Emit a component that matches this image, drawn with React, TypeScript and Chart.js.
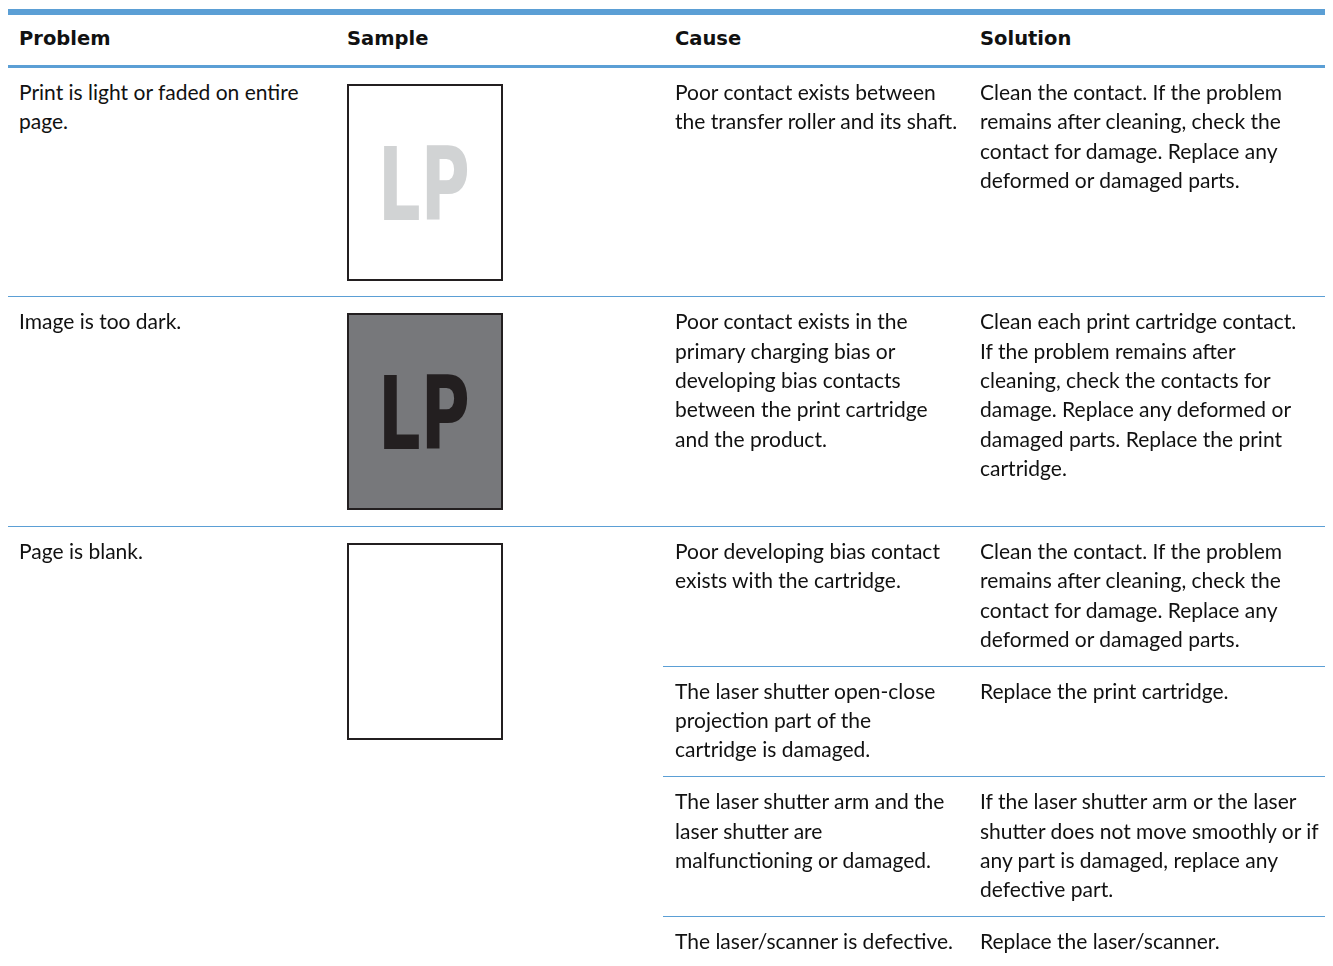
import React, { useEffect, useRef } from "react";
import { Chart, registerables } from "chart.js";

Chart.register(...registerables);

const headers = ["Problem", "Sample", "Cause", "Solution"];

const problems: string[][] = [
  ["Print is light or faded on entire", "page."],
  ["Image is too dark."],
  ["Page is blank."],
];

const sampleLetters = ["LP", "LP", ""];

const causes: string[][][] = [
  [["Poor contact exists between", "the transfer roller and its shaft."]],
  [
    [
      "Poor contact exists in the",
      "primary charging bias or",
      "developing bias contacts",
      "between the print cartridge",
      "and the product.",
    ],
  ],
  [
    ["Poor developing bias contact", "exists with the cartridge."],
    ["The laser shutter open-close", "projection part of the", "cartridge is damaged."],
    ["The laser shutter arm and the", "laser shutter are", "malfunctioning or damaged."],
    ["The laser/scanner is defective."],
  ],
];

const solutions: string[][][] = [
  [
    [
      "Clean the contact. If the problem",
      "remains after cleaning, check the",
      "contact for damage. Replace any",
      "deformed or damaged parts.",
    ],
  ],
  [
    [
      "Clean each print cartridge contact.",
      "If the problem remains after",
      "cleaning, check the contacts for",
      "damage. Replace any deformed or",
      "damaged parts. Replace the print",
      "cartridge.",
    ],
  ],
  [
    [
      "Clean the contact. If the problem",
      "remains after cleaning, check the",
      "contact for damage. Replace any",
      "deformed or damaged parts.",
    ],
    ["Replace the print cartridge."],
    [
      "If the laser shutter arm or the laser",
      "shutter does not move smoothly or if",
      "any part is damaged, replace any",
      "defective part.",
    ],
    ["Replace the laser/scanner."],
  ],
];

// visual styles (not data)
const BLUE = "#5b9fd5";
const TEXT_FONT = "Lato, 'Noto Sans', sans-serif";
const HEAD_FONT = "'DejaVu Sans', Lato, sans-serif";
const LETTER_FONT = "'Liberation Sans Narrow', 'DejaVu Sans Condensed', sans-serif";
const sampleStyles = [
  { paper: "#ffffff", ink: "#d1d3d4" },
  { paper: "#77787b", ink: "#231f20" },
  { paper: "#ffffff", ink: "#231f20" },
];

function Sample({ index }: { index: number }) {
  const ref = useRef<HTMLCanvasElement | null>(null);
  useEffect(() => {
    if (!ref.current) return;
    const style = sampleStyles[index];
    const letters = sampleLetters[index];
    const chart = new Chart(ref.current, {
      type: "scatter",
      data: { datasets: [] },
      options: {
        animation: false,
        responsive: false,
        events: [],
        layout: { padding: 0 },
        plugins: { legend: { display: false }, tooltip: { enabled: false } },
        scales: {
          x: { display: false, min: 0, max: 1 },
          y: { display: false, min: 0, max: 1 },
        },
      },
      plugins: [
        {
          id: "paper",
          beforeDraw(c: any) {
            const ctx = c.ctx;
            ctx.save();
            ctx.fillStyle = style.paper;
            ctx.fillRect(0, 0, c.width, c.height);
            ctx.restore();
          },
          afterDraw(c: any) {
            if (!letters) return;
            const ctx = c.ctx;
            const xs = c.scales.x;
            const ys = c.scales.y;
            const left = xs.getPixelForValue(0.23);
            const right = xs.getPixelForValue(0.78);
            const top = ys.getPixelForValue(0.69);
            const bottom = ys.getPixelForValue(0.3);
            ctx.save();
            ctx.font = `bold 100px ${LETTER_FONT}`;
            const m = ctx.measureText(letters);
            const w = m.actualBoundingBoxLeft + m.actualBoundingBoxRight;
            const h = m.actualBoundingBoxAscent + m.actualBoundingBoxDescent;
            const sx = (right - left) / w;
            const sy = (bottom - top) / h;
            ctx.translate(left, top);
            ctx.scale(sx, sy);
            ctx.fillStyle = style.ink;
            ctx.textBaseline = "alphabetic";
            ctx.fillText(letters, m.actualBoundingBoxLeft, m.actualBoundingBoxAscent);
            ctx.restore();
          },
        },
      ],
    });
    return () => chart.destroy();
  }, [index]);
  return (
    <div style={{ width: 152, height: 193, border: "2px solid #231f20" }}>
      <canvas ref={ref} width={152} height={193} style={{ display: "block" }} />
    </div>
  );
}

const colWidths = [328, 327, 305, 371];
const TABLE_WIDTH = colWidths.reduce((a, b) => a + b, 0);

export default function App() {
  useEffect(() => {
    const html = document.documentElement;
    const prevHtml = html.style.overflow;
    const prevBody = document.body.style.overflow;
    html.style.overflow = "hidden";
    document.body.style.overflow = "hidden";
    return () => {
      html.style.overflow = prevHtml;
      document.body.style.overflow = prevBody;
    };
  }, []);

  const textCell = (lines: string[], border: boolean, key: string) => (
    <td
      key={key}
      style={{
        verticalAlign: "top",
        padding: "9px 8px 12.7px 12px",
        borderBottom: border ? `1px solid ${BLUE}` : "none",
        whiteSpace: "nowrap",
      }}
    >
      {lines.map((l, i) => (
        <div key={i}>{l}</div>
      ))}
    </td>
  );

  const rows: React.ReactNode[] = [];
  problems.forEach((prob, r) => {
    const subs = causes[r].length;
    const lastRow = r === problems.length - 1;
    for (let s = 0; s < subs; s++) {
      const lastSub = s === subs - 1;
      rows.push(
        <tr key={`${r}-${s}`}>
          {s === 0 && (
            <td
              rowSpan={subs}
              style={{
                verticalAlign: "top",
                padding: "9px 8px 12.7px 11px",
                borderBottom: lastRow ? "none" : `1px solid ${BLUE}`,
                whiteSpace: "nowrap",
              }}
            >
              {prob.map((l, i) => (
                <div key={i}>{l}</div>
              ))}
            </td>
          )}
          {s === 0 && (
            <td
              rowSpan={subs}
              style={{
                verticalAlign: "top",
                padding: "16px 8px 15.5px 11px",
                borderBottom: lastRow ? "none" : `1px solid ${BLUE}`,
              }}
            >
              <Sample index={r} />
            </td>
          )}
          {textCell(causes[r][s], !(lastRow && lastSub), "c")}
          {textCell(solutions[r][s], !(lastRow && lastSub), "s")}
        </tr>
      );
    }
  });

  return (
    <div style={{ width: 1325, height: 949, overflow: "hidden", paddingTop: 1 }}>
      <div
        style={{
          width: TABLE_WIDTH,
          fontFamily: TEXT_FONT,
          fontSize: 21,
          lineHeight: "29.3px",
          color: "#111111",
        }}
      >
        <table
          style={{
            borderCollapse: "separate",
            borderSpacing: 0,
            tableLayout: "fixed",
            width: TABLE_WIDTH,
          }}
        >
          <colgroup>
            {colWidths.map((w, i) => (
              <col key={i} style={{ width: w }} />
            ))}
          </colgroup>
          <thead>
            <tr>
              {headers.map((h, i) => (
                <th
                  key={h}
                  style={{
                    textAlign: "left",
                    fontFamily: HEAD_FONT,
                    fontWeight: 700,
                    fontSize: 19.5,
                    padding: `9px 8px 11.7px ${i < 2 ? 11 : 12}px`,
                    borderTop: `6px solid ${BLUE}`,
                    borderBottom: `3px solid ${BLUE}`,
                    whiteSpace: "nowrap",
                  }}
                >
                  {h}
                </th>
              ))}
            </tr>
          </thead>
          <tbody>{rows}</tbody>
        </table>
      </div>
    </div>
  );
}
